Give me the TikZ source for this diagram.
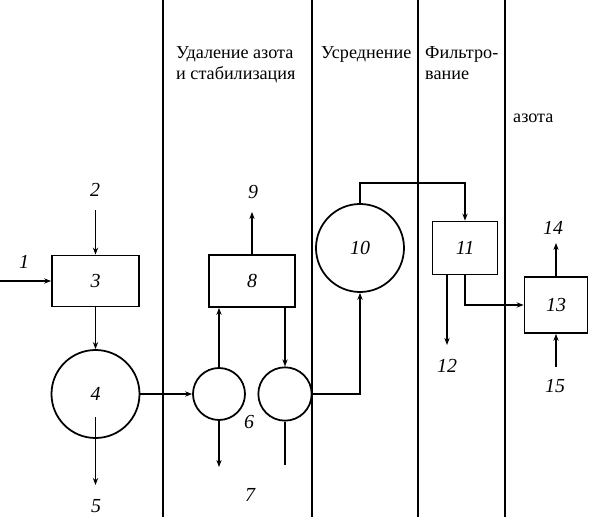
\documentclass[tikz,border=0pt]{standalone}
\usepackage{fontspec}
\setmainfont{Liberation Serif}
\usetikzlibrary{arrows.meta, positioning}

\begin{document}
\begin{tikzpicture}[
  x=0.03cm, y=-0.03cm,
  font=\fontsize{15.5}{18}\selectfont,
  box/.style={draw, line width=1.5pt, inner sep=0pt, font=\fontsize{17}{17}\selectfont\itshape},
  vessel/.style={draw, circle, line width=1.5pt, inner sep=0pt, font=\fontsize{17}{17}\selectfont\itshape},
  num/.style={font=\fontsize{17}{17}\selectfont\itshape, inner sep=1pt},
  flow/.style={line width=1.5pt, -{Stealth[length=6pt, width=4.5pt]}},
  pipe/.style={line width=1.5pt},
  sep/.style={line width=2pt},
  zone/.style={align=left, anchor=north west, inner sep=0pt}
]
  \useasboundingbox (0,0) rectangle (591,517);

  % zone borders
  \draw[sep] (163,0) -- (163,517);
  \draw[sep] (312,0) -- (312,517);
  \draw[sep] (418,0) -- (418,517);
  \draw[sep] (505,0) -- (505,517);

  \node[zone] (z1) at (176,46) {Удаление азота\\и стабилизация};
  \node[zone] (z2) at (321,46) {Усреднение};
  \node[zone] (z3) at (425,46) {Фильтро-\\вание};
  \node[zone] (z4) at (513,114) {азота};

  % units
  \node[box, minimum width=2.61cm, minimum height=1.53cm] (b3) at (95.5,281) {3};
  \node[vessel, minimum size=2.64cm] (c4) at (95.5,394) {4};
  \node[vessel, minimum size=1.56cm] (c6a) at (219,394) {};
  \node[vessel, minimum size=1.6cm] (c6b) at (285,394) {};
  \node[box, minimum width=2.58cm, minimum height=1.56cm] (b8) at (252,281) {8};
  \node[vessel, minimum size=2.64cm] (c10) at (360,248) {10};
  \node[box, minimum width=1.95cm, minimum height=1.59cm] (b11) at (465,248) {11};
  \node[box, minimum width=1.89cm, minimum height=1.68cm] (b13) at (556,305) {13};

  % free ends
  \coordinate (in1) at (0,281);
  \coordinate (in2) at (95.5,210);
  \coordinate (s5) at (95.5,417);
  \coordinate (out5) at (95.5,485);
  \coordinate (out7) at (219,467);
  \coordinate (in6) at (285,465);
  \coordinate (out9) at (252,212);
  \coordinate (out12) at (447,345);
  \coordinate (out14) at (556,243);
  \coordinate (in15) at (556,367);

  % streams
  \draw[flow] (in1) -- (b3.west);
  \draw[flow] (in2) -- (b3.north);
  \draw[flow] (b3.south) -- (c4.north);
  \draw[flow] (s5) -- (out5);
  \draw[flow] (c4.east) -- (c6a.west);
  \draw[flow] (c6a.north) -- (c6a.north |- b8.south);
  \draw[flow] (b8.south -| c6b.north) -- (c6b.north);
  \draw[flow] (b8.north) -- (out9);
  \draw[flow] (c6a.south) -- (out7);
  \draw[pipe] (in6) -- (c6b.south);
  \draw[flow] (c6b.east) -| (c10.south);
  \draw[flow] (c10.north) -- ++(0,-20) -| (b11.north);
  \draw[flow] (b11.south -| out12) -- (out12);
  \draw[flow] (b11.south) |- (b13.west);
  \draw[flow] (b13.north) -- (out14);
  \draw[flow] (in15) -- (b13.south);

  % stream numbers
  \node[num] (l1) at (24,262) {1};
  \node[num] (l2) at (95,190) {2};
  \node[num] (l5) at (96,506) {5};
  \node[num] (l6) at (249,422) {6};
  \node[num] (l7) at (250,495) {7};
  \node[num] (l9) at (253,192) {9};
  \node[num] (l12) at (447,366) {12};
  \node[num] (l14) at (553,228) {14};
  \node[num] (l15) at (555,386) {15};
\end{tikzpicture}
\end{document}
